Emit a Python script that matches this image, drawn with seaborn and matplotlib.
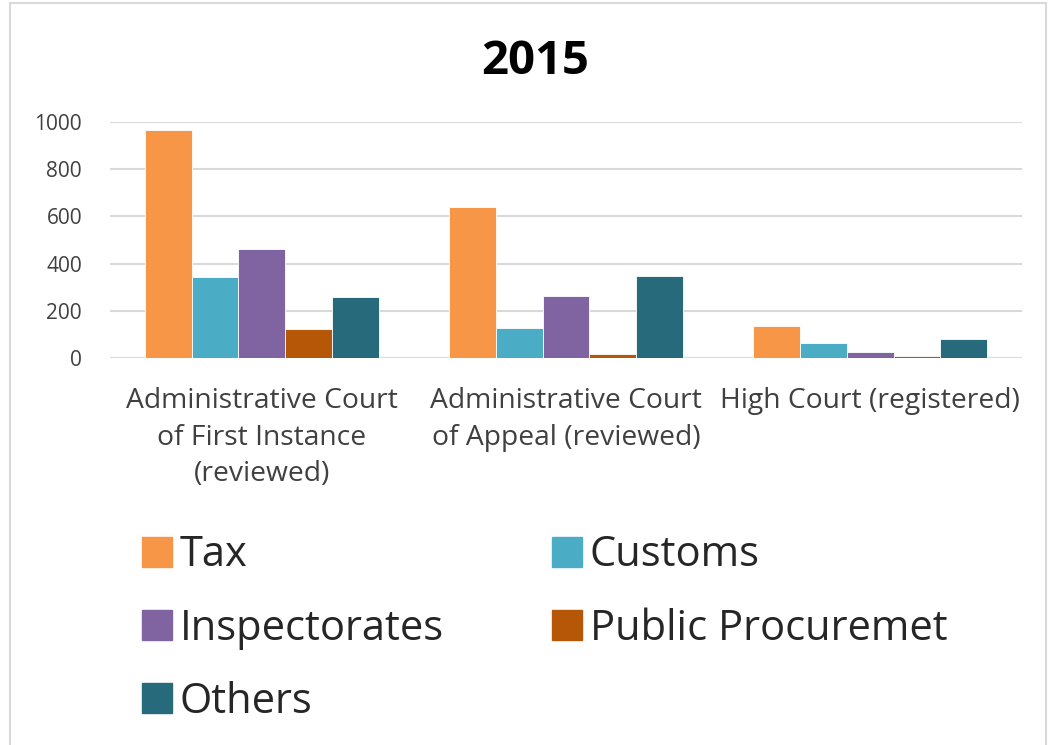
import pandas as pd
import matplotlib.pyplot as plt
import seaborn as sns
from matplotlib.patches import Rectangle, Patch

# chart data
courts = ['Administrative Court\nof First Instance\n(reviewed)',
          'Administrative Court\nof Appeal (reviewed)',
          'High Court (registered)']
categories = ['Tax', 'Customs', 'Inspectorates', 'Public Procuremet', 'Others']
tax = [966, 641, 136]
customs = [343, 127, 62]
inspectorates = [462, 263, 25]
procurement = [123, 18, 8]
others = [258, 349, 79]
colors = ['#F79646', '#4BACC6', '#8064A2', '#B65708', '#276A7C']

rows = []
for cat, vals in zip(categories, [tax, customs, inspectorates, procurement, others]):
    for court, v in zip(courts, vals):
        rows.append({'court': court, 'category': cat, 'value': v})
df = pd.DataFrame(rows)

sns.set_style('white')
plt.rcParams['font.family'] = ['Open Sans', 'DejaVu Sans']

fig = plt.figure(figsize=(10.56, 7.45), dpi=100)
ax = fig.add_axes([0.104, 0.5195, 0.864, 0.3168])

sns.barplot(data=df, x='court', y='value', hue='category', hue_order=categories,
            palette=colors, saturation=1, width=0.77, ax=ax, edgecolor='white',
            linewidth=0.6, legend=False)

ax.set_ylim(0, 1000)
ax.set_yticks([0, 200, 400, 600, 800, 1000])
ax.yaxis.grid(True, color='#D9D9D9', linewidth=1.5)
ax.set_axisbelow(True)
for s in ax.spines.values():
    s.set_visible(False)
ax.set_xlabel('')
ax.set_ylabel('')
ax.tick_params(axis='y', labelsize=15, colors='#404040', length=0, pad=20)
ax.tick_params(axis='x', labelsize=20.3, colors='#404040', length=0, pad=21)
for lbl in ax.get_xticklabels():
    lbl.set_linespacing(1.4)

fig.text(0.507, 0.918, '2015', ha='center', va='center', fontsize=34,
         fontweight='bold', color='black')

# legend, filled column by column
handles = [Patch(color=c, label=l) for c, l in zip(colors, categories)]
order = [0, 2, 4, 1, 3]
leg = fig.legend([handles[i] for i in order], [categories[i] for i in order],
                 ncol=2, loc='upper left', bbox_to_anchor=(0.099, 0.333),
                 frameon=False, fontsize=30, handlelength=0.72, handleheight=0.72,
                 handletextpad=0.18, columnspacing=2.6, labelspacing=0.75)
for t in leg.get_texts():
    t.set_color('#262626')

fig.patches.append(Rectangle((0.0095, -0.01), 0.981, 1.006, transform=fig.transFigure,
                             fill=False, edgecolor='#D9D9D9', linewidth=1.5))

fig.savefig('out.png', dpi=100)
